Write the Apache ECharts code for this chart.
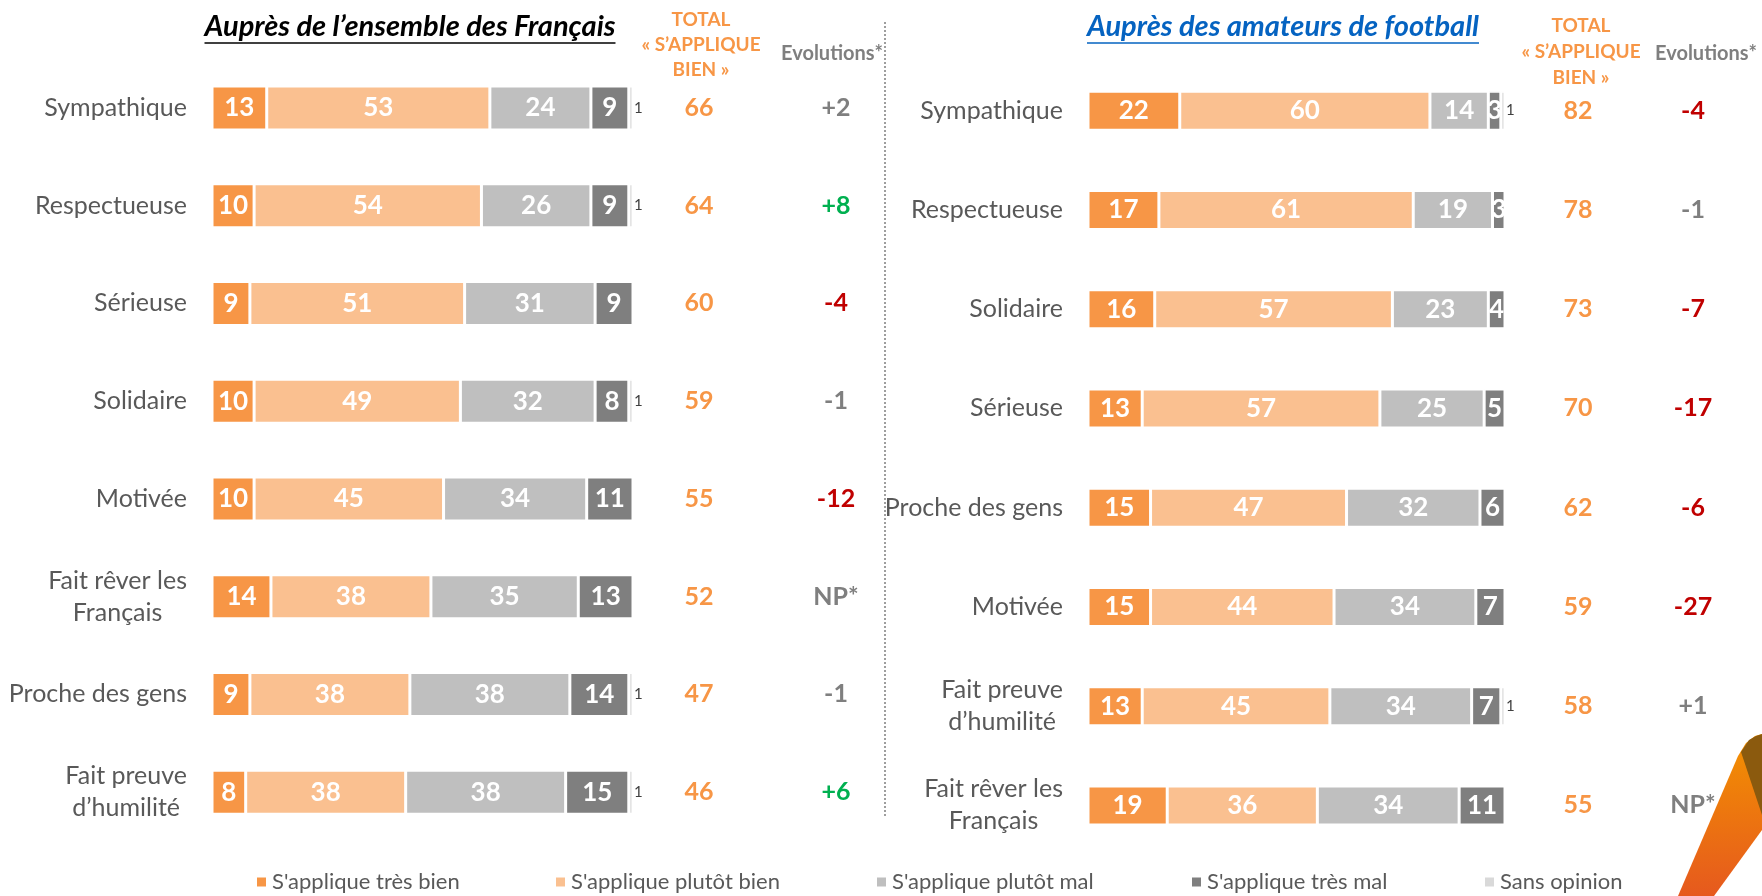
<!DOCTYPE html>
<html>
<head>
<meta charset="utf-8">
<script src="https://cdn.jsdelivr.net/npm/echarts@6/dist/echarts.min.js"></script>
<style>
  html, body { margin: 0; padding: 0; background: #fff; }
  #chart { width: 1762px; height: 896px; }
</style>
</head>
<body>
<div id="chart"></div>
<script>
// Auprès de l'ensemble des Français
const categoriesFr = ['Sympathique', 'Respectueuse', 'Sérieuse', 'Solidaire', 'Motivée', 'Fait rêver les\nFrançais', 'Proche des gens', 'Fait preuve\nd’humilité'];
const tresBienFr = [13, 10, 9, 10, 10, 14, 9, 8];
const plutotBienFr = [53, 54, 51, 49, 45, 38, 38, 38];
const plutotMalFr = [24, 26, 31, 32, 34, 35, 38, 38];
const tresMalFr = [9, 9, 9, 8, 11, 13, 14, 15];
const sansOpinionFr = [1, 1, 0, 1, 0, 0, 1, 1];
const totalFr = [66, 64, 60, 59, 55, 52, 47, 46];
const evolFr = ['+2', '+8', '-4', '-1', '-12', 'NP*', '-1', '+6'];

// Auprès des amateurs de football
const categoriesFoot = ['Sympathique', 'Respectueuse', 'Solidaire', 'Sérieuse', 'Proche des gens', 'Motivée', 'Fait preuve\nd’humilité', 'Fait rêver les\nFrançais'];
const tresBienFoot = [22, 17, 16, 13, 15, 15, 13, 19];
const plutotBienFoot = [60, 61, 57, 57, 47, 44, 45, 36];
const plutotMalFoot = [14, 19, 23, 25, 32, 34, 34, 34];
const tresMalFoot = [3, 3, 4, 5, 6, 7, 7, 11];
const sansOpinionFoot = [1, 0, 0, 0, 0, 0, 1, 0];
const totalFoot = [82, 78, 73, 70, 62, 59, 58, 55];
const evolFoot = ['-4', '-1', '-7', '-17', '-6', '-27', '+1', 'NP*'];

const seriesNames = ['S\'applique très bien', 'S\'applique plutôt bien', 'S\'applique plutôt mal', 'S\'applique très mal', 'Sans opinion'];
const colors = ['#F79646', '#FAC090', '#BFBFBF', '#7F7F7F', '#D9D9D9'];

const FONT = 'Lato, Carlito, Calibri, sans-serif';
const ORANGE = '#F79646';
const GREY_TXT = '#595959';

const chart = echarts.init(document.getElementById('chart'));

function catLabel(v) {
  return v.split('\n').map(l => '{c|' + l + '}').join('\n');
}

function evolLabel(list) {
  return (v, i) => {
    const s = list[i];
    const n = parseInt(s, 10);
    if (isNaN(n) || Math.abs(n) < 4) return '{n|' + s + '}';
    return (n > 0 ? '{g|' : '{r|') + s + '}';
  };
}

function buildAxes(gridIndex, cats, totals, evols, offTotal, offEvol) {
  const hidden = { axisLine: { show: false }, axisTick: { show: false }, splitLine: { show: false } };
  return [
    Object.assign({
      type: 'category', gridIndex, data: cats, inverse: true, position: 'left',
      axisLabel: {
        margin: 25, interval: 0, formatter: catLabel,
        rich: { c: { align: 'center', fontSize: 25, color: GREY_TXT, fontFamily: FONT, lineHeight: 32 } }
      }
    }, hidden),
    Object.assign({
      type: 'category', gridIndex, data: cats, inverse: true, position: 'right', offset: offTotal,
      axisLabel: {
        margin: 0, interval: 0, align: 'center',
        formatter: (v, i) => String(totals[i]),
        color: ORANGE, fontWeight: 'bold', fontSize: 25, fontFamily: FONT
      }
    }, hidden),
    Object.assign({
      type: 'category', gridIndex, data: cats, inverse: true, position: 'right', offset: offEvol,
      axisLabel: {
        margin: 0, interval: 0, align: 'center',
        formatter: evolLabel(evols),
        rich: {
          n: { color: '#7F7F7F', fontWeight: 'bold', fontSize: 25, fontFamily: FONT },
          g: { color: '#00B050', fontWeight: 'bold', fontSize: 25, fontFamily: FONT },
          r: { color: '#C00000', fontWeight: 'bold', fontSize: 25, fontFamily: FONT }
        }
      }
    }, hidden)
  ];
}

function buildSeries(idx, lists, barWidth) {
  return lists.map((data, k) => ({
    name: seriesNames[k],
    type: 'bar',
    stack: 'g' + idx,
    xAxisIndex: idx,
    yAxisIndex: idx * 3,
    barWidth: barWidth,
    data: data,
    itemStyle: { color: colors[k], borderColor: '#fff', borderWidth: 1.5 },
    label: k < 4 ? {
      show: true, position: 'inside', color: '#fff', fontWeight: 'bold', fontSize: 26, fontFamily: FONT
    } : {
      show: true, position: 'right', distance: 1, color: '#404040', fontSize: 15, fontFamily: FONT,
      formatter: p => (p.value > 0 ? p.value : '')
    },
    emphasis: { disabled: true }
  }));
}

const legendX = [255, 554, 875, 1190, 1483];

// underline helper: measure title widths
const measureCtx = document.createElement('canvas').getContext('2d');
function textWidth(text, font) {
  measureCtx.font = font;
  return measureCtx.measureText(text).width;
}
const titleFont = 'italic bold 29px ' + FONT;
const titleFr = 'Auprès de l’ensemble des Français';
const titleFoot = 'Auprès des amateurs de football';
const wFr = textWidth(titleFr, titleFont);
const wFoot = textWidth(titleFoot, titleFont);

const option = {
  animation: false,
  textStyle: { fontFamily: FONT },
  grid: [
    { left: 212, width: 421, top: 59, height: 782 },
    { left: 1088, width: 417, top: 61, height: 794 }
  ],
  xAxis: [
    { type: 'value', gridIndex: 0, min: 0, max: 100, show: false },
    { type: 'value', gridIndex: 1, min: 0, max: 100, show: false }
  ],
  yAxis: [].concat(
    buildAxes(0, categoriesFr, totalFr, evolFr, 66, 203),
    buildAxes(1, categoriesFoot, totalFoot, evolFoot, 73, 188)
  ),
  legend: seriesNames.map((n, i) => ({
    data: [n],
    left: legendX[i],
    top: 871,
    padding: 0,
    icon: 'rect',
    itemWidth: 11,
    itemHeight: 11,
    selectedMode: false,
    textStyle: { fontSize: 22, color: GREY_TXT, fontFamily: FONT }
  })),
  series: [].concat(
    buildSeries(0, [tresBienFr, plutotBienFr, plutotMalFr, tresMalFr, sansOpinionFr], 44),
    buildSeries(1, [tresBienFoot, plutotBienFoot, plutotMalFoot, tresMalFoot, sansOpinionFoot], 39)
  ),
  graphic: [
    { type: 'text', style: { text: titleFr, x: 410, y: 27, font: titleFont, fill: '#000', align: 'center', verticalAlign: 'middle' } },
    { type: 'line', shape: { x1: 410 - wFr / 2, y1: 43, x2: 410 + wFr / 2, y2: 43 }, style: { stroke: '#000', lineWidth: 1.5 } },
    { type: 'text', style: { text: titleFoot, x: 1283, y: 27, font: titleFont, fill: '#0563C1', align: 'center', verticalAlign: 'middle' } },
    { type: 'line', shape: { x1: 1283 - wFoot / 2, y1: 43, x2: 1283 + wFoot / 2, y2: 43 }, style: { stroke: '#0563C1', lineWidth: 1.5 } },
    { type: 'text', style: { text: 'TOTAL\n« S’APPLIQUE\nBIEN »', x: 701, y: 45, font: 'bold 19px ' + FONT, fill: ORANGE, align: 'center', verticalAlign: 'middle', lineHeight: 25 } },
    { type: 'text', style: { text: 'TOTAL\n« S’APPLIQUE\nBIEN »', x: 1581, y: 52, font: 'bold 19px ' + FONT, fill: ORANGE, align: 'center', verticalAlign: 'middle', lineHeight: 26 } },
    { type: 'text', style: { text: 'Evolutions*', x: 832, y: 54, font: 'bold 20px ' + FONT, fill: '#7F7F7F', align: 'center', verticalAlign: 'middle' } },
    { type: 'text', style: { text: 'Evolutions*', x: 1706, y: 54, font: 'bold 20px ' + FONT, fill: '#7F7F7F', align: 'center', verticalAlign: 'middle' } },
    { type: 'line', shape: { x1: 885, y1: 22, x2: 885, y2: 818 }, style: { stroke: '#7F7F7F', lineWidth: 1.5, lineDash: [2, 2] } },
    {
      type: 'polygon',
      shape: { points: [[1678, 896], [1738, 756], [1746, 743], [1755, 736], [1762, 734], [1762, 830], [1714, 896]] },
      style: {
        fill: new echarts.graphic.LinearGradient(0, 0, 0, 1, [
          { offset: 0, color: '#F39200' },
          { offset: 1, color: '#E6591E' }
        ])
      }
    },
    {
      type: 'polygon',
      shape: { points: [[1741, 752], [1749, 740], [1756, 736], [1762, 734], [1762, 815]] },
      style: { fill: '#8B5A0E' }
    }
  ]
};

chart.setOption(option);
</script>
</body>
</html>
